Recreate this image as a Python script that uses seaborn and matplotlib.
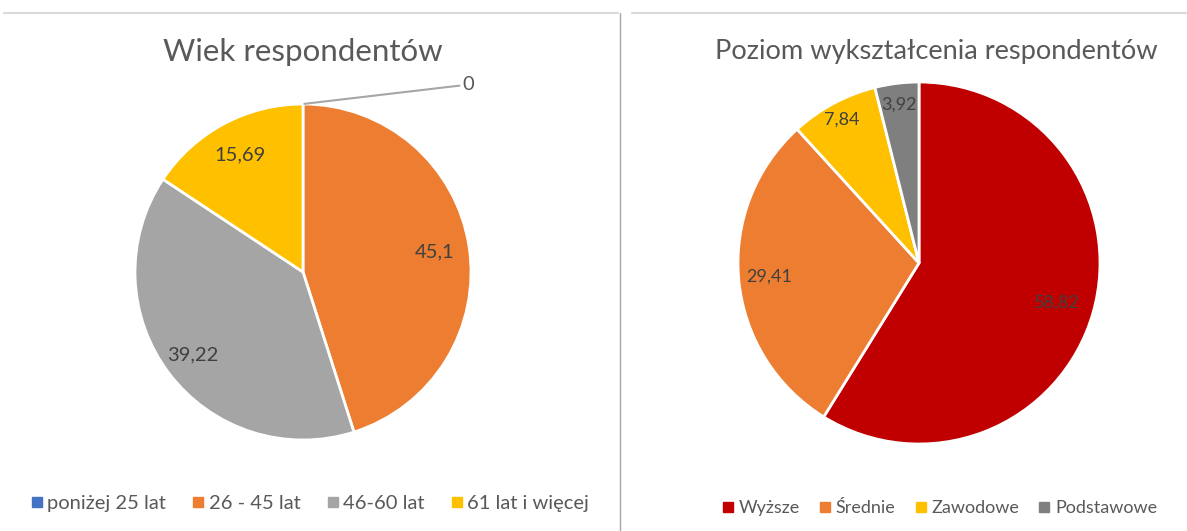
import matplotlib.pyplot as plt
import numpy as np
import seaborn as sns
from matplotlib.lines import Line2D

sns.set_theme(style="white")
plt.rcParams['font.family'] = ['Lato', 'DejaVu Sans']

age_labels = ["poniżej 25 lat", "26 - 45 lat", "46-60 lat", "61 lat i więcej"]
age_values = [0, 45.1, 39.22, 15.69]
age_colors = ["#4472C4", "#ED7D31", "#A5A5A5", "#FFC000"]

edu_labels = ["Wyższe", "Średnie", "Zawodowe", "Podstawowe"]
edu_values = [58.82, 29.41, 7.84, 3.92]
edu_colors = ["#C00000", "#ED7D31", "#FFC000", "#7F7F7F"]

txt = "#595959"
W, H = 1187, 531
fig = plt.figure(figsize=(W / 100, H / 100), dpi=100)


def fmt(v):
    return ("%g" % v).replace(".", ",")


def pie_panel(cx, cy, r, values, colors, lab_r, lab_size, title, tsize, tx, ty):
    ax = fig.add_axes([(cx - r) / W, (H - cy - r) / H, 2 * r / W, 2 * r / H])
    wedges, _ = ax.pie(values, colors=colors, startangle=90, counterclock=False,
                       wedgeprops=dict(edgecolor="white", linewidth=2))
    ax.set_xlim(-1, 1)
    ax.set_ylim(-1, 1)
    ax.set_aspect("equal")
    ax.axis("off")
    for w, v, lr in zip(wedges, values, lab_r):
        ang = np.deg2rad((w.theta1 + w.theta2) / 2)
        if v == 0:
            ax.annotate(fmt(v), xy=(np.cos(ang), np.sin(ang)), xytext=(115, 14),
                        textcoords="offset points", color=txt, fontsize=lab_size,
                        va="center", ha="left",
                        arrowprops=dict(arrowstyle="-", color="#A6A6A6", lw=1.5,
                                        shrinkA=0, shrinkB=1))
        else:
            ax.text(lr * np.cos(ang), lr * np.sin(ang), fmt(v), ha="center",
                    va="center", color="#404040", fontsize=lab_size)
    fig.text(tx / W, 1 - ty / H, title, ha="center", va="center",
             fontsize=tsize, color=txt)
    return wedges


w1 = pie_panel(303, 272, 168, age_values, age_colors, [0, 0.79, 0.82, 0.79], 14.5,
               "Wiek respondentów", 22.5, 303, 52)
w2 = pie_panel(919, 263, 181, edu_values, edu_colors, [0.79, 0.83, 0.9, 0.88], 13,
               "Poziom wykształcenia respondentów", 19.6, 936, 51)


def legend(labels, colors, x, y, size, pad, colsp):
    handles = [Line2D([], [], marker="s", linestyle="", color=c, markersize=6.5)
               for c in colors]
    fig.legend(handles, labels, loc="center", bbox_to_anchor=(x / W, 1 - y / H),
               ncol=len(labels), frameon=False, fontsize=size, labelcolor=txt,
               handletextpad=pad, columnspacing=colsp, handlelength=0.6,
               borderpad=0, borderaxespad=0)


legend(age_labels, age_colors, 310, 503, 14.5, 0.22, 1.3)
legend(edu_labels, edu_colors, 940, 508, 13, 0.28, 1.1)

# panel borders
fig.add_artist(Line2D([4 / W, 618 / W], [1 - 13 / H] * 2, color="#D9D9D9", lw=1.5))
fig.add_artist(Line2D([632 / W, 1], [1 - 13 / H] * 2, color="#D9D9D9", lw=1.5))
fig.add_artist(Line2D([620 / W] * 2, [1 - 13 / H, 0], color="#A6A6A6", lw=1))

fig.savefig("out.png", dpi=100, facecolor="white")
